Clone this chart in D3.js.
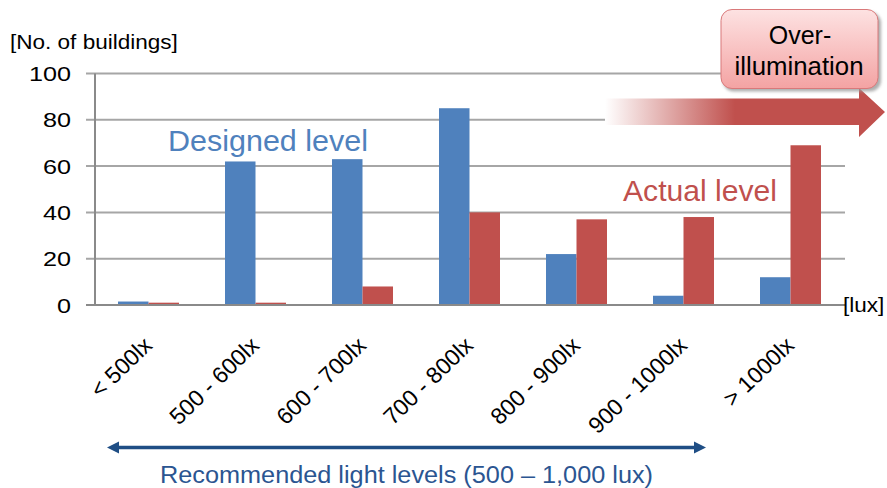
<!DOCTYPE html>
<html>
<head>
<meta charset="utf-8">
<script src="https://cdn.jsdelivr.net/npm/d3@7/dist/d3.min.js"></script>
<style>
  html, body { margin: 0; padding: 0; background: #fff; }
  svg { display: block; font-family: "Liberation Sans", Arial, sans-serif; }
</style>
</head>
<body>
<svg id="chart" width="887" height="488"></svg>
<script>
// Illuminance classes and building counts
const categories = ["< 500lx", "500 - 600lx", "600 - 700lx", "700 - 800lx", "800 - 900lx", "900 - 1000lx", "> 1000lx"];
const designed = [1.5, 62, 63, 85, 22, 4, 12];
const actual = [1, 1, 8, 40, 37, 38, 69];
const yTicks = [0, 20, 40, 60, 80, 100];
const seriesNames = ["Designed level", "Actual level"];

const BLUE = "#4f81bd";
const RED = "#c0504d";

const svg = d3.select("#chart");
const defs = svg.append("defs");

const x = d3.scaleBand().domain(categories).range([95, 844]).paddingInner(0.43).paddingOuter(0.215);
const xs = d3.scaleBand().domain(seriesNames).range([0, x.bandwidth()]);
const y = d3.scaleLinear().domain([0, 100]).range([305, 73.5]);

// horizontal gridlines with short outer ticks
svg.append("g").selectAll("line").data(yTicks).join("line")
  .attr("x1", 86).attr("x2", 845)
  .attr("y1", d => y(d)).attr("y2", d => y(d))
  .attr("stroke", d => d === 0 ? "#8a8a8a" : "#a6a6a6")
  .attr("stroke-width", 2);

// y tick labels
svg.append("g").selectAll("text").data(yTicks).join("text")
  .attr("transform", d => `translate(71,${y(d) + 7.5}) scale(1.2,1)`)
  .attr("text-anchor", "end")
  .attr("font-size", 21)
  .attr("fill", "#000")
  .text(d => d);

// bars
const rows = categories.map((c, i) => ({ c, vals: [designed[i], actual[i]] }));
const groups = svg.append("g").selectAll("g").data(rows).join("g")
  .attr("transform", d => `translate(${x(d.c)},0)`);
groups.selectAll("rect").data(d => d.vals.map((v, k) => ({ v, s: seriesNames[k] }))).join("rect")
  .attr("x", d => xs(d.s))
  .attr("width", xs.bandwidth())
  .attr("y", d => y(d.v))
  .attr("height", d => y(0) - y(d.v))
  .attr("fill", d => d.s === seriesNames[0] ? BLUE : RED);

// axes lines
svg.append("line").attr("x1", 95).attr("x2", 95).attr("y1", y(100)).attr("y2", y(0))
  .attr("stroke", "#8a8a8a").attr("stroke-width", 2);
svg.append("line").attr("x1", 86).attr("x2", 835).attr("y1", y(0)).attr("y2", y(0))
  .attr("stroke", "#8a8a8a").attr("stroke-width", 2);

// rotated category labels
svg.append("g").selectAll("text").data(categories).join("text")
  .attr("transform", d => `translate(${x(d) + x.bandwidth() / 2 + 5},347) rotate(-44)`)
  .attr("text-anchor", "end")
  .attr("font-size", 23)
  .attr("fill", "#000")
  .text(d => d);

// axis titles
svg.append("text").attr("transform", "translate(10,49) scale(1.1,1)")
  .attr("font-size", 20.5).text("[No. of buildings]");
svg.append("text").attr("transform", "translate(843,312) scale(1.1,1)")
  .attr("font-size", 20.5).text("[lux]");

// series annotations
svg.append("text").attr("x", 168).attr("y", 151).attr("font-size", 29.5)
  .attr("fill", BLUE).attr("textLength", 200).attr("lengthAdjust", "spacingAndGlyphs").text(seriesNames[0]);
svg.append("text").attr("x", 623).attr("y", 201).attr("font-size", 29.5)
  .attr("fill", RED).attr("textLength", 154).attr("lengthAdjust", "spacingAndGlyphs").text(seriesNames[1]);

// over-illumination arrow with fading tail
const fade = defs.append("linearGradient").attr("id", "fade")
  .attr("gradientUnits", "userSpaceOnUse").attr("x1", 605).attr("x2", 735).attr("y1", 0).attr("y2", 0);
fade.append("stop").attr("offset", 0).attr("stop-color", "#ffffff");
fade.append("stop").attr("offset", 1).attr("stop-color", RED);
const arrowPts = [[605, 98.5], [859, 98.5], [859, 88], [885, 112], [859, 137], [859, 125], [605, 125]];
svg.append("path").attr("d", d3.line()(arrowPts) + "Z").attr("fill", "url(#fade)");

// callout box
const boxGrad = defs.append("linearGradient").attr("id", "boxGrad")
  .attr("x1", 0).attr("x2", 0).attr("y1", 0).attr("y2", 1);
boxGrad.append("stop").attr("offset", 0).attr("stop-color", "#fde2e2");
boxGrad.append("stop").attr("offset", 1).attr("stop-color", "#f4a3a3");
const shadow = defs.append("filter").attr("id", "shadow").attr("x", "-20%").attr("y", "-20%").attr("width", "140%").attr("height", "140%");
shadow.append("feGaussianBlur").attr("stdDeviation", 1.5);
svg.append("rect").attr("x", 723).attr("y", 12).attr("width", 158).attr("height", 79.5).attr("rx", 11)
  .attr("fill", "#9a9a9a").attr("opacity", 0.8).attr("filter", "url(#shadow)");
svg.append("rect").attr("x", 721).attr("y", 9.5).attr("width", 157).attr("height", 79).attr("rx", 11)
  .attr("fill", "url(#boxGrad)").attr("stroke", "#d9797a").attr("stroke-width", 1);
svg.append("text").attr("x", 800).attr("y", 44).attr("text-anchor", "middle")
  .attr("font-size", 25).text("Over-");
svg.append("text").attr("x", 799).attr("y", 75).attr("text-anchor", "middle")
  .attr("font-size", 25).attr("textLength", 129).attr("lengthAdjust", "spacingAndGlyphs").text("illumination");

// recommended range double arrow
const NAVY = "#1f4e85";
svg.append("line").attr("x1", 116).attr("x2", 697).attr("y1", 447.5).attr("y2", 447.5)
  .attr("stroke", NAVY).attr("stroke-width", 3.5);
svg.append("path").attr("d", d3.line()([[107, 447.5], [119, 441.5], [119, 453.5]]) + "Z").attr("fill", NAVY);
svg.append("path").attr("d", d3.line()([[706, 447.5], [694, 441.5], [694, 453.5]]) + "Z").attr("fill", NAVY);
svg.append("text").attr("x", 160).attr("y", 483).attr("font-size", 23)
  .attr("fill", "#2b5591").attr("textLength", 493).attr("lengthAdjust", "spacingAndGlyphs")
  .text("Recommended light levels (500 \u2013 1,000 lux)");
</script>
</body>
</html>
